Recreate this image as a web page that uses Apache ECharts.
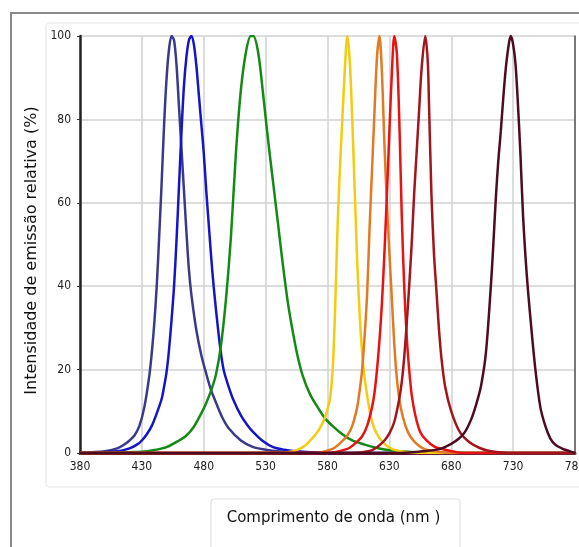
<!DOCTYPE html>
<html>
<head>
<meta charset="utf-8">
<script src="https://cdn.jsdelivr.net/npm/echarts@6/dist/echarts.min.js"></script>
<style>
html,body{margin:0;padding:0;background:#fff;}
#c{width:579px;height:547px;}
</style>
</head>
<body>
<div id="c"></div>
<script>
// Wavelength (nm) / relative intensity (%)
var xTicks = [380, 430, 480, 530, 580, 630, 680, 730, 780];
var yTicks = [0, 20, 40, 60, 80, 100];
var xTitle = 'Comprimento de onda (nm )';
var yTitle = 'Intensidade de emissão relativa (%)';

var led455 = [[380,0],[400,0.4],[410,1.1],[416,2.1],[420,3],[424,4.2],[428,6.5],[432,11],[436,18.5],[438,24],[440,31],[442,40],[444,52],[446,65],[448,79],[450,90],[452,97],[454,100],
  [456,99],[458,93],[460,83],[462,73],[464,63],[466,53],[468,44],[470,38],[474,29.5],[478,23.5],[482,19],[486,15],[490,12],[495,8.5],[500,6],[510,3],[520,1.4],[530,0.8],[540,0.4],[560,0],[780,0]];
var led470 = [[380,0],[410,0.4],[420,1.1],[426,2],[430,3],[434,4.5],[438,6.5],[442,9.5],[446,13],[448,16],[450,19.5],[452,25],[454,32],[456,40],[458,51],[460,64],[462,77],[464,88],[466,95],[468,99],[470,100],
  [472,98],[474,93],[476,86],[478,79],[480,72],[482,63],[484,55],[486,47],[488,40],[490,34],[493,26],[496,20],[500,16],[504,12.7],[510,9],[515,6.8],[520,5],[528,2.8],[536,1.4],[545,0.8],[555,0.4],[580,0],[780,0]];
var led520 = [[380,0],[430,0.3],[440,0.7],[450,1.4],[460,3],[466,4.2],[472,6.3],[478,9.5],[482,12],[486,15],[490,19],[494,26],[498,37],[502,52],[506,72],[510,87],[514,96],[518,100],
  [520,100],[524,96],[528,86],[532,75],[536,65],[540,55],[544,45],[548,36],[552,29],[556,23],[560,18.5],[566,14],[572,11],[578,8.3],[584,6.5],[592,4.5],[600,3],[610,2],[620,1.2],[632,0.6],[645,0.3],[670,0],[780,0]];
var led596 = [[380,0],[540,0],[550,0.3],[556,0.8],[562,1.8],[566,3],[570,4.3],[574,6],[578,8.5],[580,10.5],[582,13],[584,19],[586,33],[588,53],[590,68],[592,80],[594,92],[596,100],
  [598,94],[600,80],[602,63],[604,46],[606,33],[608,24],[610,18],[613,12],[616,7.5],[620,4.5],[625,2.5],[630,1.3],[636,0.6],[650,0],[780,0]];
var led622 = [[380,0],[570,0],[584,1],[590,2.3],[596,4.2],[600,6.5],[604,11],[606,15],[608,20],[610,28],[612,38],[614,54],[616,68],[618,82],[620,95],[622,100],
  [624,91],[626,74],[628,60],[630,48],[632,37],[634,26],[636,18],[638,13],[641,8.5],[645,5],[650,2.8],[658,1],[670,0.3],[680,0],[780,0]];
var led635 = [[380,0],[580,0],[596,1],[602,2.2],[608,4],[612,6.5],[616,11],[618,14.5],[620,20],[622,27],[624,36],[626,48],[628,62],[630,77],[632,91],[634,100],
  [636,96],[638,80],[640,57],[642,40],[644,28],[646,20],[648,14],[651,9],[655,5],[660,3],[666,1.6],[672,1],[690,0],[780,0]];
var led659 = [[380,0],[600,0],[614,0.5],[620,1.4],[626,3],[630,4.7],[634,7.5],[638,13],[640,17],[642,23],[644,31],[646,40],[648,50],[650,62],[652,72],[654,82],[656,92],[659,100],
  [661,94],[662,84],[664,62],[666,48],[668,39],[670,30],[672,23],[675,16],[680,10],[687,5],[695,2.5],[703,1.2],[711,0.5],[730,0],[780,0]];
var led728 = [[380,0],[640,0],[660,0.5],[671,1],[680,2.2],[686,3.4],[691,5],[696,8],[700,11.5],[704,16],[708,24],[712,40],[714,50],[716,61],[718,70],[720,77],[722,85],[724,92],[726,97],[728,100],
  [730,98],[732,93],[734,83],[736,71],[738,57],[740,47],[742,39],[745,29],[748,20],[752,11],[756,6.5],[760,3.5],[764,2],[770,1],[775,0.5],[780,0]];

var seriesList = [
  {data: led455, color: '#3a3a8a'},
  {data: led470, color: '#1414c8'},
  {data: led520, color: '#138a13'},
  {data: led596, color: '#f2cc10'},
  {data: led622, color: '#e27a22'},
  {data: led635, color: '#e81212'},
  {data: led659, color: '#a3151d'},
  {data: led728, color: '#4e0c22'}
];

var font = '"DejaVu Sans Condensed", "Liberation Sans Narrow", "Liberation Sans", sans-serif';

var chart = echarts.init(document.getElementById('c'), null, {renderer: 'canvas'});
chart.setOption({
  backgroundColor: '#ffffff',
  animation: false,
  graphic: [
    {type: 'rect', z: -10, shape: {x: 46, y: 23, width: 560, height: 464, r: 4},
      style: {fill: 'none', stroke: '#e4e4e4', lineWidth: 1.2}},
    {type: 'rect', z: -10, shape: {x: 211, y: 499, width: 249, height: 80, r: 3},
      style: {fill: 'none', stroke: '#e0e0e0', lineWidth: 1.2}},
    {type: 'rect', z: -9, shape: {x: 11, y: 13, width: 600, height: 560},
      style: {fill: 'none', stroke: '#8a8a8a', lineWidth: 2}}
  ],
  grid: {left: 80, right: 4, top: 36, bottom: 94, show: false, containLabel: false, outerBoundsMode: 'none'},
  xAxis: [{
    type: 'value', min: 380, max: 780, interval: 50,
    name: xTitle, nameLocation: 'middle', nameGap: 58,
    nameTextStyle: {fontFamily: 'DejaVu Sans, sans-serif', fontSize: 15, color: '#111', padding: [0, 0, 0, 12]},
    axisLine: {show: true, lineStyle: {color: '#6a1226', width: 3}},
    axisTick: {show: true, length: 2, lineStyle: {color: '#555'}},
    axisLabel: {fontFamily: font, fontSize: 12, color: '#222', margin: 8, hideOverlap: false},
    splitLine: {show: true, lineStyle: {color: '#d2d2d2', width: 1.5}}
  }, {
    type: 'value', min: 380, max: 780, position: 'top',
    axisLine: {show: true, lineStyle: {color: '#222', width: 2}},
    axisTick: {show: false}, axisLabel: {show: false}, splitLine: {show: false}
  }],
  yAxis: [{
    type: 'value', min: 0, max: 100, interval: 20,
    name: yTitle, nameLocation: 'middle', nameGap: 40, nameRotate: 90,
    nameTextStyle: {fontFamily: 'DejaVu Sans, sans-serif', fontSize: 16, color: '#111', padding: [0, 12, 0, 0]},
    axisLine: {show: true, lineStyle: {color: '#222', width: 2.5}},
    axisTick: {show: true, length: 3, lineStyle: {color: '#333'}},
    axisLabel: {fontFamily: font, fontSize: 12, color: '#222', margin: 9},
    splitLine: {show: true, lineStyle: {color: '#d2d2d2', width: 1.5}}
  }, {
    type: 'value', min: 0, max: 100, position: 'right',
    axisLine: {show: true, lineStyle: {color: '#555', width: 1.5}},
    axisTick: {show: false}, axisLabel: {show: false}, splitLine: {show: false}
  }],
  series: seriesList.map(function (s) {
    return {
      type: 'line', data: s.data, showSymbol: false, symbol: 'none',
      smooth: 0.3, clip: true,
      lineStyle: {color: s.color, width: 2.5}
    };
  })
});
</script>
</body>
</html>
